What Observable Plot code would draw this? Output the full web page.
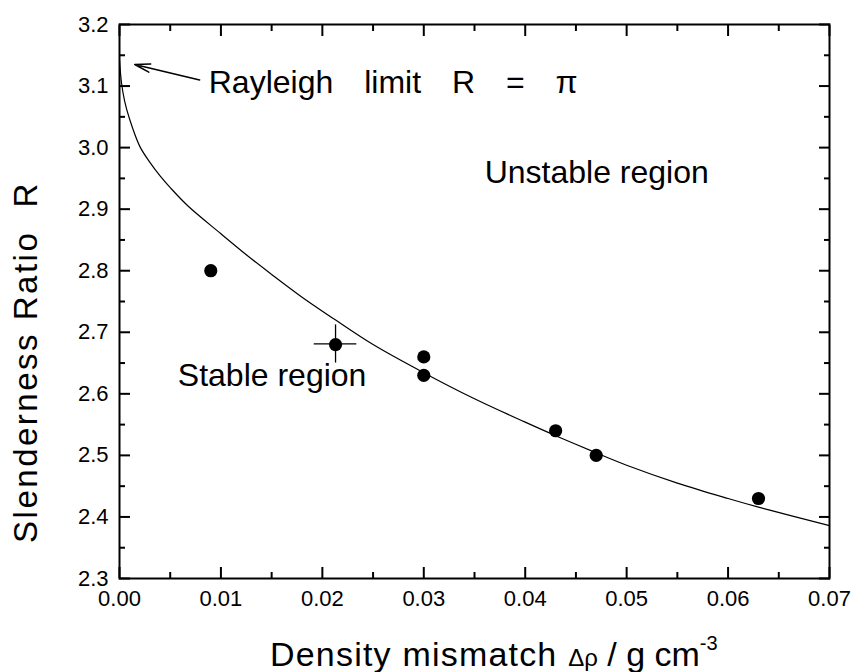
<!DOCTYPE html>
<html><head><meta charset="utf-8">
<script src="https://cdn.jsdelivr.net/npm/d3@7"></script>
<script src="https://cdn.jsdelivr.net/npm/@observablehq/plot@0.6"></script>
<style>body{margin:0;background:#fff;} svg{display:block}</style>
</head><body><div id="chart"></div>
<script>
// measured points
const pointX = [0.009, 0.0213, 0.030, 0.030, 0.043, 0.047, 0.063];
const pointY = [2.80, 2.68, 2.66, 2.63, 2.54, 2.50, 2.43];
// error bar on one point
const errX = [0.0213], errY = [2.681], errDx = [0.0021], errDy = [0.031];
// theory curve
const curveX = [0, 0.0002, 0.0005, 0.001, 0.002, 0.003, 0.004, 0.005, 0.0067, 0.01, 0.0125, 0.015, 0.018, 0.0212, 0.025, 0.0298, 0.035, 0.04, 0.043, 0.047, 0.050, 0.055, 0.06, 0.063, 0.07];
const curveY = [3.142, 3.105, 3.076, 3.046, 3.002, 2.976, 2.954, 2.935, 2.906, 2.860, 2.826, 2.794, 2.757, 2.721, 2.680, 2.636, 2.592, 2.554, 2.532, 2.504, 2.484, 2.455, 2.430, 2.416, 2.386];
// ticks
const xMajor = [0, 0.01, 0.02, 0.03, 0.04, 0.05, 0.06, 0.07];
const xMinor = [0.005, 0.015, 0.025, 0.035, 0.045, 0.055, 0.065];
const yMajor = [2.3, 2.4, 2.5, 2.6, 2.7, 2.8, 2.9, 3.0, 3.1, 3.2];
const yMinor = [2.35, 2.45, 2.55, 2.65, 2.75, 2.85, 2.95, 3.05, 3.15];
// annotations
const noteText = ["Rayleigh limit R = \u03c0", "Unstable region", "Stable region"];
const noteX = [0.0088, 0.0360, 0.00575];
const noteY = [3.106, 2.959, 2.629];
const arrowX1 = [0.0079], arrowY1 = [3.110], arrowX2 = [0.0015], arrowY2 = [3.135];

const pts = pointX.map((x, i) => ({x, y: pointY[i]}));
const curve = curveX.map((x, i) => ({x, y: curveY[i]}));
const errs = errX.map((x, i) => ({x, y: errY[i], dx: errDx[i], dy: errDy[i]}));
const notes = noteText.map((t, i) => ({t, x: noteX[i], y: noteY[i]}));
const arrows = arrowX1.map((x, i) => ({x1: x, y1: arrowY1[i], x2: arrowX2[i], y2: arrowY2[i]}));

const font = "'Liberation Sans', Arial, sans-serif";
const chart = Plot.plot({
  width: 851, height: 672,
  marginLeft: 119, marginRight: 22, marginTop: 24, marginBottom: 94,
  style: {fontFamily: font, fontSize: "22px", color: "#000", background: "#fff"},
  x: {domain: [0, 0.07]},
  y: {domain: [2.3, 3.2]},
  marks: [
    Plot.axisX(xMajor, {anchor: "bottom", tickSize: -11, strokeWidth: 2, text: null, label: null}),
    Plot.axisX(xMinor, {anchor: "bottom", tickSize: -6, strokeWidth: 2, text: null, label: null}),
    Plot.axisX(xMajor, {anchor: "top", tickSize: -11, strokeWidth: 2, text: null, label: null}),
    Plot.axisX(xMinor, {anchor: "top", tickSize: -6, strokeWidth: 2, text: null, label: null}),
    Plot.axisY(yMajor, {anchor: "left", tickSize: -11, strokeWidth: 2, text: null, label: null}),
    Plot.axisY(yMinor, {anchor: "left", tickSize: -6, strokeWidth: 2, text: null, label: null}),
    Plot.axisY(yMajor, {anchor: "right", tickSize: -11, strokeWidth: 2, text: null, label: null}),
    Plot.axisY(yMinor, {anchor: "right", tickSize: -6, strokeWidth: 2, text: null, label: null}),
    Plot.axisX(xMajor, {anchor: "bottom", tickSize: 0, tickPadding: 12, tickFormat: d3.format(".2f"), label: null}),
    Plot.axisY(yMajor, {anchor: "left", tickSize: 0, tickPadding: 11, tickFormat: d3.format(".1f"), label: null}),
    Plot.frame({stroke: "#000", strokeWidth: 2}),
    Plot.line(curve, {x: "x", y: "y", curve: "catmull-rom", stroke: "#000", strokeWidth: 1.2}),
    Plot.ruleX(errs, {x: "x", y1: d => d.y - d.dy, y2: d => d.y + d.dy, stroke: "#000", strokeWidth: 1.3}),
    Plot.ruleY(errs, {y: "y", x1: d => d.x - d.dx, x2: d => d.x + d.dx, stroke: "#000", strokeWidth: 1.3}),
    Plot.dot(pts, {x: "x", y: "y", r: 6.6, fill: "#000", stroke: "none"}),
    Plot.arrow(arrows, {x1: "x1", y1: "y1", x2: "x2", y2: "y2", stroke: "#000", strokeWidth: 1.5, headLength: 16, headAngle: 30}),
    Plot.text(notes, {x: "x", y: "y", text: "t", textAnchor: "start", lineAnchor: "middle", fontSize: 32, fill: "#000"})
  ]
});
document.getElementById("chart").appendChild(chart);

const svg = d3.select(chart);
// tick label size
svg.selectAll("g[aria-label='x-axis tick label'] text, g[aria-label='y-axis tick label'] text")
  .style("font-size", "22px");
// wider word gaps in the Rayleigh note, as in the original
svg.selectAll("text").filter(function () { return this.textContent.startsWith("Rayleigh"); })
  .style("word-spacing", "22px");

// axis titles
const xt = svg.append("text").attr("x", 270).attr("y", 666).attr("text-anchor", "start")
  .attr("font-family", font).attr("font-size", 34).attr("fill", "#000");
xt.append("tspan").attr("letter-spacing", 1.2).text("Density mismatch ");
xt.append("tspan").attr("font-size", 24).text("\u0394\u03c1");
xt.append("tspan").text(" / g cm");
xt.append("tspan").attr("font-size", 20).attr("dy", -16).text("-3");

svg.append("text")
  .attr("transform", "translate(37,362) rotate(-90)")
  .attr("text-anchor", "middle")
  .attr("font-family", font).attr("font-size", 33).attr("letter-spacing", 2.5).attr("fill", "#000")
  .text("Slenderness Ratio  R");
</script></body></html>
